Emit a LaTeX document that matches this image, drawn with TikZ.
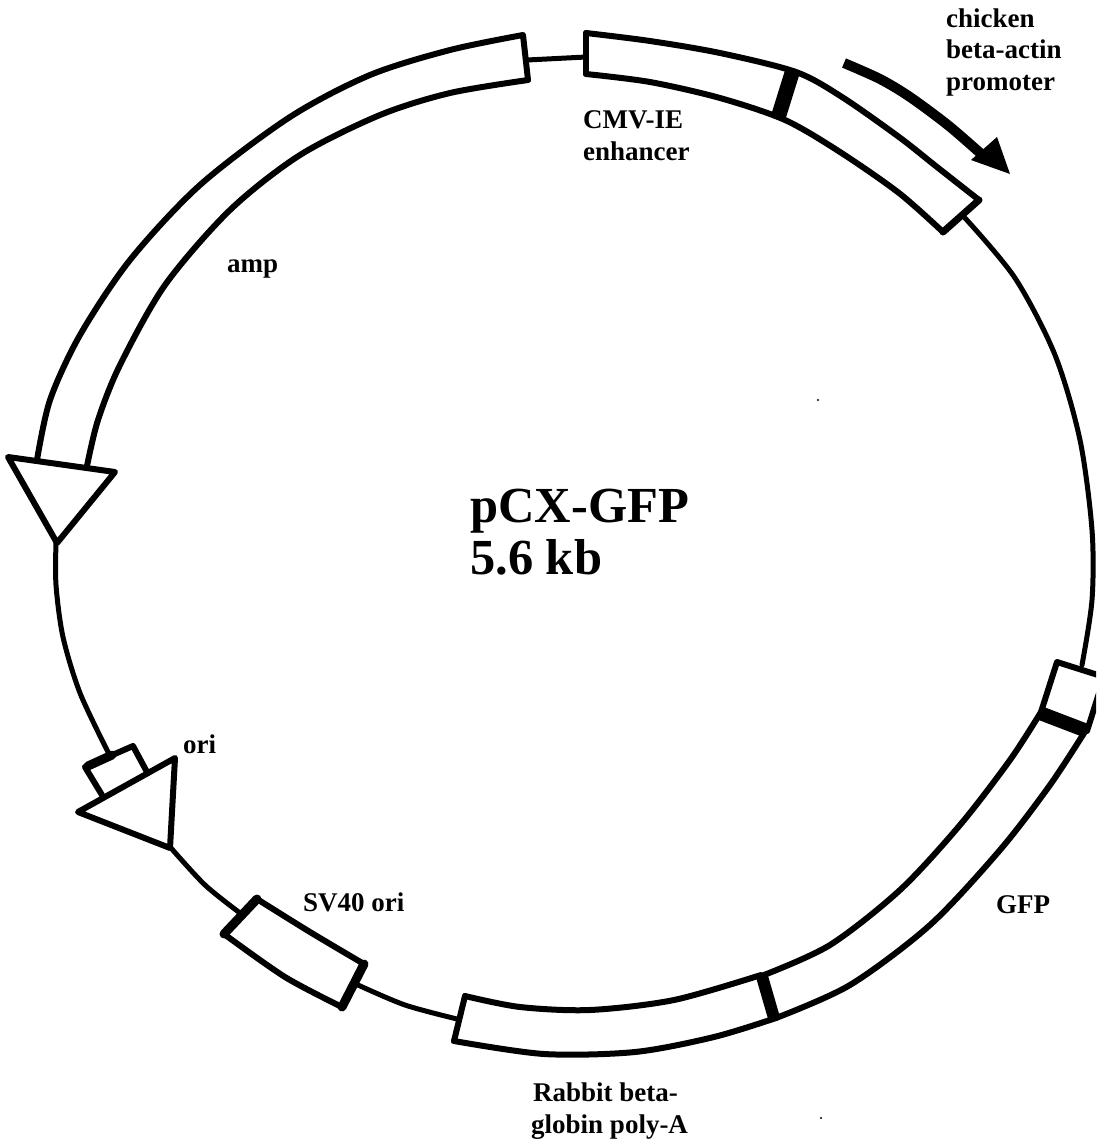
\documentclass[tikz,border=0pt]{standalone}
\usepackage{fontspec}
\setmainfont{Liberation Serif}
\tikzset{
  edge/.style={line width=6pt,line join=round,line cap=round,black},
  thin edge/.style={line width=5pt,line join=round,line cap=round,black},
  bar/.style={line width=15pt,black},
  lab/.style={anchor=base west,inner sep=0pt,align=left,font=\bfseries\fontsize{27}{31.5}\selectfont},
  title/.style={anchor=base west,inner sep=0pt,align=left,font=\bfseries\fontsize{50.5}{52}\selectfont}
}
\begin{document}
\begin{tikzpicture}[x=1pt,y=-1pt]
\useasboundingbox (0,0) rectangle (1096,1144);
\clip (0,0) rectangle (1096,1144);
\fill[white] (0,0) rectangle (1096,1144);
% backbone
\draw[thin edge] (527,60) -- (586,57);
\draw[thin edge] plot[smooth] coordinates {(965,218) (1015,278) (1055,355) (1080,440) (1092,530) (1092,600) (1082,665)};
\draw[thin edge] plot[smooth] coordinates {(56,543) (56,585) (63,637) (80,693) (108,752)};
\draw[thin edge] plot[smooth] coordinates {(171,848) (205,885) (240,913)};
\draw[thin edge] plot[smooth] coordinates {(358,985) (405,1005) (457,1019)};
% amp band
\draw[edge] plot[smooth] coordinates {(37,460) (50,400) (80,335) (130,260) (200,185) (290,117) (370,75) (450,50) (523,35)} -- (528,80);
\draw[edge] plot[smooth] coordinates {(528,80) (450,93) (380,115) (300,155) (230,210) (165,285) (120,365) (98,420) (87,466)};
\draw[edge] (8,457) -- (115,472) -- (57,543) -- cycle;
% CMV / promoter band
\draw[edge] plot[smooth] coordinates {(586,33) (650,41) (720,53) (796,72) (842,97) (899,137) (937,167) (979,200)};
\draw[edge] plot[smooth] coordinates {(586,74) (650,82) (720,98) (785,120) (840,152) (899,193) (943,232)};
\draw[edge] (586,33) -- (586,74);
\draw[edge,line width=7pt] (979,200) -- (943,232);
\draw[bar] (792,73) -- (778,118);
% promoter arrow
\draw[line width=10pt,black] plot[smooth] coordinates {(844,63) (880,79) (910,97) (949,126) (988,160)};
\fill[black] (997,137) -- (971,160) -- (1010,174) -- cycle;
% ori
\draw[edge] (102,795) -- (85,767) -- (133,746) -- (147,772);
\draw[edge,line width=9pt] (88,766) -- (112,755);
\draw[edge] (78,812) -- (175,758) -- (170,848) -- cycle;
% SV40 ori
\draw[edge] plot[smooth] coordinates {(257,899) (310,932) (364,964)};
\draw[edge] plot[smooth] coordinates {(224,934) (285,977) (342,1007)};
\draw[edge,line width=9pt] (224,934) -- (257,899);
\draw[edge,line width=9pt] (364,964) -- (342,1007);
% rabbit poly-A band
\draw[edge] plot[smooth] coordinates {(465,996) (520,1007) (590,1010) (674,1000) (761,975)};
\draw[edge] plot[smooth] coordinates {(454,1041) (544,1054) (635,1052) (714,1037) (776,1018)};
\draw[edge] (465,996) -- (454,1041);
\draw[bar,line width=12pt] (761,973) -- (774,1018);
% GFP band
\draw[edge] plot[smooth] coordinates {(776,1018) (850,985) (930,925) (1000,850) (1050,785) (1086,730)};
\draw[edge] plot[smooth] coordinates {(764,975) (830,945) (900,890) (960,825) (1010,760) (1041,712)};
\draw[bar,line width=14pt] (1040,713) -- (1087,731);
% right small box
\draw[edge] (1041,712) -- (1057,662) -- (1098,675);
\draw[edge] (1087,731) -- (1100,690);
% stray dots
\fill[black] (818,400) circle (1.2pt);
\fill[black] (821,1118) circle (1.2pt);
% labels
\node[lab] (promoter) at (946,90) {chicken\\beta-actin\\promoter};
\node[lab] (cmv) at (583,160) {CMV-IE\\enhancer};
\node[lab] (amp) at (227,272) {amp};
\node[title] (name) at (470,574) {pCX-GFP\\5.6 kb};
\node[lab] (ori) at (183,753) {ori};
\node[lab] (sv) at (303,911) {SV40 ori};
\node[lab] (gfp) at (996,913) {GFP};
\node[lab] (polya) at (531,1133) {\hspace*{2pt}Rabbit beta-\\globin poly-A};
\end{tikzpicture}
\end{document}
